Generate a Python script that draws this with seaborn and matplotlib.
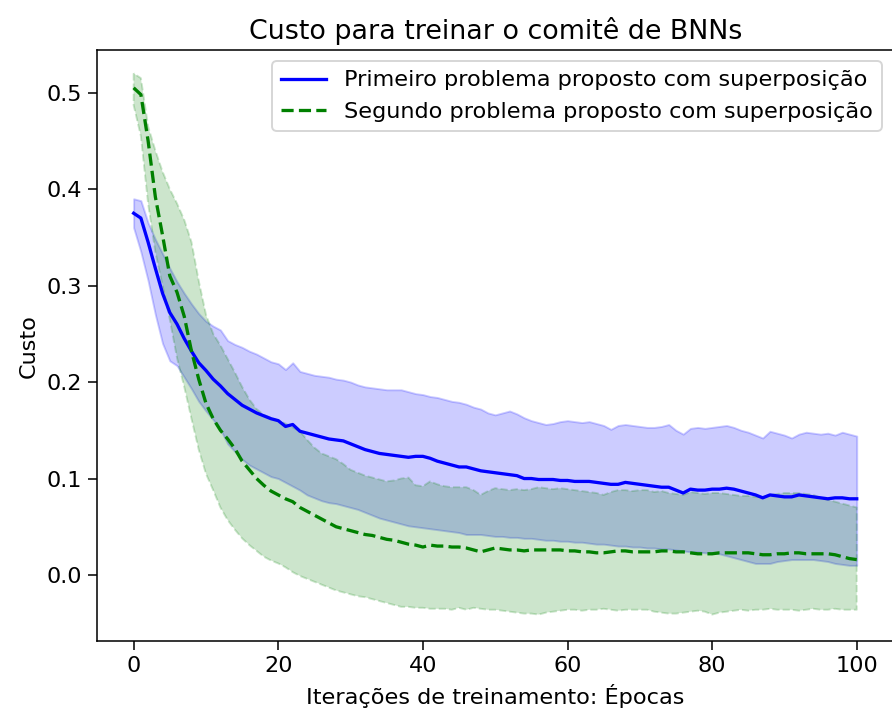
import matplotlib
matplotlib.use("Agg")
import matplotlib.pyplot as plt
import numpy as np
import pandas as pd
import seaborn as sns

# epocas de treinamento
epocas = list(range(0, 101))

# primeiro problema: media, limite superior e inferior
media_1 = [.375, .370, .345, .318, .292, .272, .260, .245, .232, .220,
           .212, .203, .196, .188, .182, .176, .172, .168, .165, .162,
           .160, .154, .156, .149, .147, .145, .143, .141, .140, .139,
           .136, .133, .130, .128, .126, .125, .124, .123, .122, .123,
           .123, .121, .118, .116, .114, .112, .112, .110, .108, .107,
           .106, .105, .104, .103, .100, .100, .099, .099, .099, .098,
           .098, .097, .097, .097, .096, .095, .094, .094, .096, .095,
           .094, .093, .092, .091, .091, .088, .085, .089, .088, .088,
           .089, .089, .090, .089, .087, .085, .083, .080, .083, .082,
           .081, .081, .083, .082, .081, .080, .079, .080, .080, .079,
           .079]
sup_1 = [.390, .388, .365, .348, .333, .318, .304, .292, .281, .271,
         .263, .258, .254, .243, .239, .236, .232, .229, .225, .221,
         .219, .213, .220, .211, .209, .207, .206, .205, .203, .202,
         .200, .197, .195, .194, .193, .192, .192, .192, .190, .188,
         .187, .185, .184, .182, .180, .179, .177, .174, .172, .168,
         .166, .168, .170, .167, .163, .160, .158, .156, .157, .159,
         .160, .159, .158, .159, .157, .155, .151, .155, .156, .155,
         .154, .153, .153, .154, .156, .150, .146, .152, .153, .152,
         .153, .154, .155, .153, .150, .148, .145, .142, .149, .147,
         .145, .142, .146, .148, .147, .146, .147, .145, .148, .146,
         .144]
inf_1 = [.360, .335, .305, .270, .240, .222, .217, .205, .193, .180,
         .170, .161, .151, .136, .128, .120, .114, .110, .106, .102,
         .100, .096, .092, .088, .083, .080, .077, .075, .074, .072,
         .070, .068, .065, .062, .059, .057, .055, .053, .051, .050,
         .049, .048, .047, .046, .045, .044, .042, .042, .042, .041,
         .040, .040, .039, .039, .038, .038, .037, .036, .036, .035,
         .035, .034, .034, .033, .032, .032, .031, .030, .030, .029,
         .029, .028, .028, .027, .027, .026, .025, .024, .024, .023,
         .023, .022, .020, .018, .016, .014, .012, .012, .012, .014,
         .015, .016, .016, .016, .016, .015, .014, .012, .011, .010,
         .010]

# segundo problema: media, limite superior e inferior
media_2 = [.505, .498, .450, .392, .352, .310, .293, .268, .232, .203,
           .178, .162, .150, .141, .131, .118, .109, .100, .093, .087,
           .083, .079, .076, .070, .066, .062, .058, .054, .050, .048,
           .046, .044, .042, .041, .039, .037, .036, .034, .032, .031,
           .029, .031, .030, .030, .029, .029, .028, .026, .024, .026,
           .028, .027, .026, .026, .025, .026, .026, .026, .026, .026,
           .025, .025, .024, .024, .023, .023, .024, .025, .025, .024,
           .024, .024, .024, .025, .025, .024, .024, .023, .022, .022,
           .022, .023, .023, .023, .023, .023, .022, .021, .021, .022,
           .022, .023, .023, .022, .022, .022, .022, .021, .019, .017,
           .016]
sup_2 = [.520, .515, .465, .440, .418, .400, .385, .368, .345, .305,
         .270, .250, .238, .224, .210, .195, .182, .172, .166, .163,
         .160, .157, .153, .149, .140, .132, .126, .123, .120, .115,
         .109, .106, .103, .101, .099, .097, .098, .100, .101, .093,
         .092, .097, .094, .092, .091, .091, .091, .088, .083, .087,
         .090, .089, .088, .089, .088, .089, .091, .090, .089, .090,
         .089, .088, .087, .086, .085, .083, .086, .088, .088, .087,
         .088, .088, .086, .087, .085, .084, .083, .086, .085, .084,
         .085, .085, .084, .083, .082, .082, .081, .081, .083, .084,
         .085, .085, .085, .084, .083, .080, .078, .076, .074, .072,
         .070]
inf_2 = [.487, .455, .385, .335, .300, .265, .225, .195, .162, .130,
         .105, .088, .070, .057, .047, .038, .031, .025, .019, .015,
         .012, .008, .003, -.001, -.004, -.007, -.010, -.013, -.016, -.018,
         -.020, -.022, -.023, -.025, -.027, -.029, -.031, -.033, -.033, -.034,
         -.034, -.035, -.035, -.035, -.036, -.034, -.036, -.034, -.035, -.036,
         -.036, -.037, -.038, -.039, -.040, -.040, -.041, -.039, -.038, -.037,
         -.036, -.036, -.037, -.036, -.036, -.035, -.036, -.037, -.036, -.036,
         -.036, -.036, -.038, -.039, -.040, -.040, -.039, -.038, -.037, -.038,
         -.041, -.039, -.038, -.037, -.036, -.037, -.036, -.036, -.035, -.036,
         -.036, -.036, -.037, -.036, -.035, -.036, -.036, -.035, -.036, -.036,
         -.036]

rotulo_1 = 'Primeiro problema proposto com superposição'
rotulo_2 = 'Segundo problema proposto com superposição'

df = pd.DataFrame({'epoca': epocas, 'media_1': media_1, 'media_2': media_2})

plt.rcParams['font.size'] = 11.6
plt.rcParams['lines.linewidth'] = 1.7
plt.rcParams['xtick.major.size'] = 4.5
plt.rcParams['ytick.major.size'] = 4.5

dpi = 139
fig, ax = plt.subplots(figsize=(892 / dpi, 717 / dpi), dpi=dpi)
fig.subplots_adjust(left=0.1093, right=1.001, bottom=0.106, top=0.930)

# linhas das medias
sns.lineplot(data=df, x='epoca', y='media_1', color='blue', label=rotulo_1, ax=ax)
sns.lineplot(data=df, x='epoca', y='media_2', color='green', linestyle='--', label=rotulo_2, ax=ax)

# faixas de desvio
ax.fill_between(epocas, inf_1, sup_1, color='blue', alpha=0.2)
ax.fill_between(epocas, inf_2, sup_2, color='green', alpha=0.2, linestyle='--')

ax.set_xlim(-5, 105)
ax.set_ylim(-0.0684, 0.544)
ax.set_title('Custo para treinar o comitê de BNNs')
ax.set_xlabel('Iterações de treinamento: Épocas')
ax.set_ylabel('Custo')
ax.legend(loc='upper right')

fig.savefig('out.png', dpi=dpi)
